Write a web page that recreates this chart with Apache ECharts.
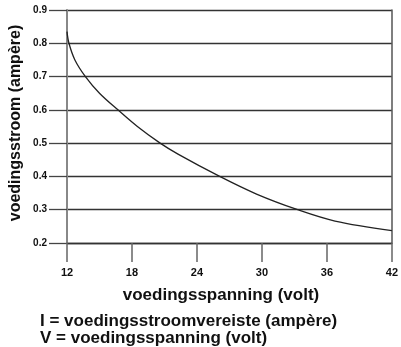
<!DOCTYPE html>
<html><head><meta charset="utf-8">
<script src="https://cdn.jsdelivr.net/npm/echarts@6/dist/echarts.min.js"></script>
<style>html,body{margin:0;padding:0;background:#fff}#c{width:401px;height:347px}</style>
</head><body><div id="c"></div>
<script>
const voltage = [12, 12.18, 12.73, 13.7, 15, 16.7, 18.5, 20.6, 22.25, 26.1, 29.5, 33.3, 36.75, 42];
const current = [0.835, 0.8, 0.75, 0.7, 0.65, 0.6, 0.55, 0.5, 0.467, 0.4, 0.347, 0.3, 0.266, 0.237];
const xTicks = [12, 18, 24, 30, 36, 42];
const yTicks = [0.2, 0.3, 0.4, 0.5, 0.6, 0.7, 0.8, 0.9];
const xTitle = 'voedingsspanning (volt)';
const yTitle = 'voedingsstroom (ampère)';
const notes = ['I = voedingsstroomvereiste (ampère)', 'V = voedingsspanning (volt)'];

const chart = echarts.init(document.getElementById('c'));
const font = 'Liberation Sans, Arial, sans-serif';
chart.setOption({
  animation: false,
  grid: {left: 67, right: 3, top: 10, bottom: 104},
  xAxis: {
    type: 'value', min: xTicks[0], max: xTicks[xTicks.length - 1], interval: 6,
    axisLine: {show: true, lineStyle: {color: '#333', width: 1.3}},
    axisTick: {show: true, length: 19, lineStyle: {color: '#666', width: 1.5}},
    axisLabel: {margin: 24, color: '#111', fontWeight: 'bold', fontSize: 11, fontFamily: font},
    splitLine: {show: false}
  },
  yAxis: [{
    type: 'value', min: yTicks[0], max: yTicks[yTicks.length - 1], interval: 0.1,
    axisLine: {show: true, lineStyle: {color: '#888', width: 2}},
    axisTick: {show: true, length: 18, lineStyle: {color: '#444', width: 1.3}},
    axisLabel: {margin: 20, color: '#111', fontWeight: 'bold', fontSize: 10, fontFamily: font,
      formatter: v => v.toFixed(1)},
    splitLine: {show: true, lineStyle: {color: '#333', width: 1.3}}
  }, {
    type: 'value', position: 'right', min: yTicks[0], max: yTicks[yTicks.length - 1], interval: 0.1,
    axisLine: {show: true, lineStyle: {color: '#555', width: 1.5}},
    axisTick: {show: false}, axisLabel: {show: false}, splitLine: {show: false}
  }],
  series: [{
    type: 'line', smooth: 0.35, showSymbol: false,
    data: voltage.map((v, i) => [v, current[i]]),
    lineStyle: {color: '#222', width: 1.3}
  }],
  graphic: [
    {type: 'text', x: 221, y: 295, style: {text: xTitle, font: 'bold 17px ' + font, fill: '#111', textAlign: 'center', textVerticalAlign: 'middle'}},
    {type: 'text', x: 16, y: 123, rotation: Math.PI / 2, style: {text: yTitle, font: 'bold 16px ' + font, fill: '#111', textAlign: 'center', textVerticalAlign: 'middle'}},
    {type: 'text', x: 40, y: 321, style: {text: notes[0], font: 'bold 17px ' + font, fill: '#111', textVerticalAlign: 'middle'}},
    {type: 'text', x: 40, y: 338, style: {text: notes[1], font: 'bold 17px ' + font, fill: '#111', textVerticalAlign: 'middle'}}
  ]
});
</script></body></html>
